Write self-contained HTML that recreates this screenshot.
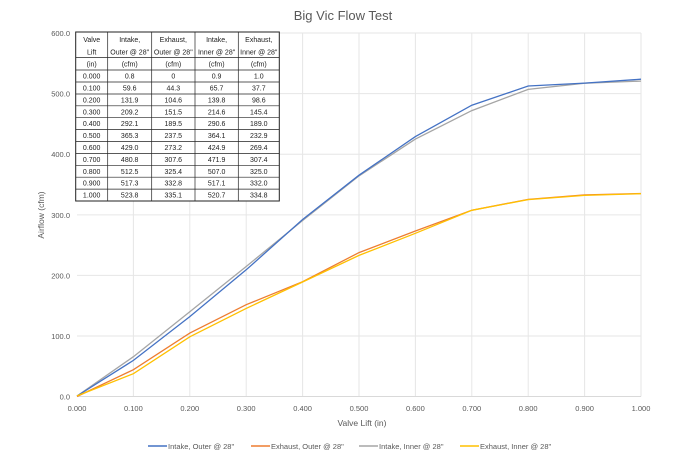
<!DOCTYPE html>
<html><head><style>body{margin:0;background:#fff}svg{display:block}text{font-family:"Liberation Sans",sans-serif}</style></head><body>
<svg width="688" height="459" xmlns="http://www.w3.org/2000/svg">
<text x="343" y="20" font-size="13" fill="#595959" text-anchor="middle">Big Vic Flow Test</text>
<g stroke="#e6e6e6" stroke-width="1">
<line x1="77" y1="33" x2="641" y2="33"/><line x1="77" y1="93.6" x2="641" y2="93.6"/><line x1="77" y1="154.3" x2="641" y2="154.3"/><line x1="77" y1="214.9" x2="641" y2="214.9"/><line x1="77" y1="275.4" x2="641" y2="275.4"/><line x1="77" y1="336" x2="641" y2="336"/>
<line x1="133.4" y1="33" x2="133.4" y2="396.5"/><line x1="189.8" y1="33" x2="189.8" y2="396.5"/><line x1="246.2" y1="33" x2="246.2" y2="396.5"/><line x1="302.6" y1="33" x2="302.6" y2="396.5"/><line x1="359" y1="33" x2="359" y2="396.5"/><line x1="415.4" y1="33" x2="415.4" y2="396.5"/><line x1="471.8" y1="33" x2="471.8" y2="396.5"/><line x1="528.2" y1="33" x2="528.2" y2="396.5"/><line x1="584.6" y1="33" x2="584.6" y2="396.5"/><line x1="641" y1="33" x2="641" y2="396.5"/>
</g>
<line x1="77" y1="396.5" x2="641" y2="396.5" stroke="#d9d9d9"/>
<g font-size="7.5" fill="#595959" text-anchor="end">
<text x="70" y="36">600.0</text><text x="70" y="96.5">500.0</text><text x="70" y="157">400.0</text><text x="70" y="218">300.0</text><text x="70" y="278.5">200.0</text><text x="70" y="339">100.0</text><text x="70" y="399.5">0.0</text>
</g>
<g font-size="7.5" fill="#595959" text-anchor="middle">
<text x="77" y="411">0.000</text><text x="133.4" y="411">0.100</text><text x="189.8" y="411">0.200</text><text x="246.2" y="411">0.300</text><text x="302.6" y="411">0.400</text><text x="359" y="411">0.500</text><text x="415.4" y="411">0.600</text><text x="471.8" y="411">0.700</text><text x="528.2" y="411">0.800</text><text x="584.6" y="411">0.900</text><text x="641" y="411">1.000</text>
<text x="362" y="426" font-size="8.5">Valve Lift (in)</text>
<text transform="translate(44,215) rotate(-90)" font-size="8.5">Airflow (cfm)</text>
</g>
<g fill="none" stroke-width="1.3">
<polyline stroke="#A5A5A5" points="77,396 133.4,356.7 189.8,311.8 246.2,266.5 302.6,220.5 359,175.9 415.4,139.1 471.8,110.6 528.2,89.4 584.6,83.2 641,81.1"/>
<polyline stroke="#4472C4" points="77,396 133.4,360.4 189.8,316.6 246.2,269.8 302.6,219.5 359,175.2 415.4,136.6 471.8,105.2 528.2,86 584.6,83.1 641,79.2"/>
<polyline stroke="#ED7D31" points="77,396.5 133.4,369.7 189.8,333.1 246.2,304.7 302.6,281.7 359,252.6 415.4,231 471.8,210.2 528.2,199.4 584.6,194.9 641,193.5"/>
<polyline stroke="#FFC000" points="77,395.9 133.4,373.7 189.8,336.8 246.2,308.4 302.6,282 359,255.4 415.4,233.3 471.8,210.3 528.2,199.6 584.6,195.4 641,193.7"/>
</g>
<g font-size="7" fill="#222" text-anchor="middle">
<rect x="75.7" y="32" width="203.6" height="169" fill="#fff" stroke="#222" stroke-width="1"/>
<g stroke="#222" stroke-width="0.7">
<line x1="107.7" y1="32" x2="107.7" y2="201"/><line x1="151.7" y1="32" x2="151.7" y2="201"/><line x1="195" y1="32" x2="195" y2="201"/><line x1="238.3" y1="32" x2="238.3" y2="201"/>
<line x1="75.7" y1="57.5" x2="279.3" y2="57.5"/><line x1="75.7" y1="70" x2="279.3" y2="70"/>
<line x1="75.7" y1="82" x2="279.3" y2="82"/><line x1="75.7" y1="94" x2="279.3" y2="94"/><line x1="75.7" y1="105.8" x2="279.3" y2="105.8"/><line x1="75.7" y1="117.7" x2="279.3" y2="117.7"/><line x1="75.7" y1="129.6" x2="279.3" y2="129.6"/><line x1="75.7" y1="141.5" x2="279.3" y2="141.5"/><line x1="75.7" y1="153.4" x2="279.3" y2="153.4"/><line x1="75.7" y1="165.3" x2="279.3" y2="165.3"/><line x1="75.7" y1="177.2" x2="279.3" y2="177.2"/><line x1="75.7" y1="189.1" x2="279.3" y2="189.1"/>
</g>
<text x="91.7" y="42">Valve</text><text x="129.7" y="42">Intake,</text><text x="173.3" y="42">Exhaust,</text><text x="216.6" y="42">Intake,</text><text x="258.8" y="42">Exhaust,</text>
<text x="91.7" y="54.5">Lift</text><text x="129.7" y="54.5">Outer @ 28"</text><text x="173.3" y="54.5">Outer @ 28"</text><text x="216.6" y="54.5">Inner @ 28"</text><text x="258.8" y="54.5">Inner @ 28"</text>
<text x="91.7" y="66.5">(in)</text><text x="129.7" y="66.5">(cfm)</text><text x="173.3" y="66.5">(cfm)</text><text x="216.6" y="66.5">(cfm)</text><text x="258.8" y="66.5">(cfm)</text>
<g>
<text x="91.7" y="78.6">0.000</text><text x="129.7" y="78.6">0.8</text><text x="173.3" y="78.6">0</text><text x="216.6" y="78.6">0.9</text><text x="258.8" y="78.6">1.0</text>
<text x="91.7" y="90.5">0.100</text><text x="129.7" y="90.5">59.6</text><text x="173.3" y="90.5">44.3</text><text x="216.6" y="90.5">65.7</text><text x="258.8" y="90.5">37.7</text>
<text x="91.7" y="102.4">0.200</text><text x="129.7" y="102.4">131.9</text><text x="173.3" y="102.4">104.6</text><text x="216.6" y="102.4">139.8</text><text x="258.8" y="102.4">98.6</text>
<text x="91.7" y="114.3">0.300</text><text x="129.7" y="114.3">209.2</text><text x="173.3" y="114.3">151.5</text><text x="216.6" y="114.3">214.6</text><text x="258.8" y="114.3">145.4</text>
<text x="91.7" y="126.2">0.400</text><text x="129.7" y="126.2">292.1</text><text x="173.3" y="126.2">189.5</text><text x="216.6" y="126.2">290.6</text><text x="258.8" y="126.2">189.0</text>
<text x="91.7" y="138.1">0.500</text><text x="129.7" y="138.1">365.3</text><text x="173.3" y="138.1">237.5</text><text x="216.6" y="138.1">364.1</text><text x="258.8" y="138.1">232.9</text>
<text x="91.7" y="150">0.600</text><text x="129.7" y="150">429.0</text><text x="173.3" y="150">273.2</text><text x="216.6" y="150">424.9</text><text x="258.8" y="150">269.4</text>
<text x="91.7" y="161.9">0.700</text><text x="129.7" y="161.9">480.8</text><text x="173.3" y="161.9">307.6</text><text x="216.6" y="161.9">471.9</text><text x="258.8" y="161.9">307.4</text>
<text x="91.7" y="173.8">0.800</text><text x="129.7" y="173.8">512.5</text><text x="173.3" y="173.8">325.4</text><text x="216.6" y="173.8">507.0</text><text x="258.8" y="173.8">325.0</text>
<text x="91.7" y="185.7">0.900</text><text x="129.7" y="185.7">517.3</text><text x="173.3" y="185.7">332.8</text><text x="216.6" y="185.7">517.1</text><text x="258.8" y="185.7">332.0</text>
<text x="91.7" y="197.6">1.000</text><text x="129.7" y="197.6">523.8</text><text x="173.3" y="197.6">335.1</text><text x="216.6" y="197.6">520.7</text><text x="258.8" y="197.6">334.8</text>
</g>
</g>
<g font-size="7.5" fill="#595959" stroke-width="1.5">
<line x1="148" y1="446" x2="167" y2="446" stroke="#4472C4"/><text x="168" y="449">Intake, Outer @ 28"</text>
<line x1="251" y1="446" x2="270" y2="446" stroke="#ED7D31"/><text x="271" y="449">Exhaust, Outer @ 28"</text>
<line x1="359" y1="446" x2="378" y2="446" stroke="#A5A5A5"/><text x="379" y="449">Intake, Inner @ 28"</text>
<line x1="460" y1="446" x2="479" y2="446" stroke="#FFC000"/><text x="480" y="449">Exhaust, Inner @ 28"</text>
</g>
</svg>
</body></html>
